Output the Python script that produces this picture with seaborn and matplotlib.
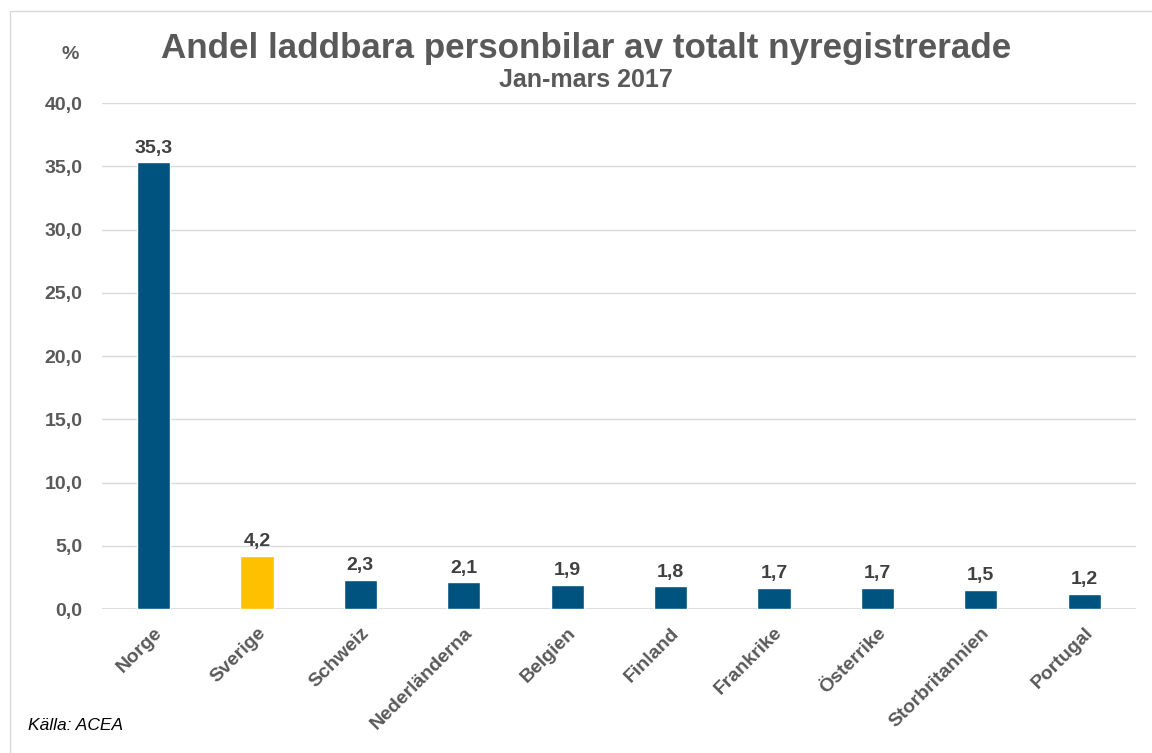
import matplotlib
matplotlib.use("Agg")
import matplotlib.pyplot as plt
import seaborn as sns
import pandas as pd
from matplotlib.patches import Rectangle

countries = ["Norge", "Sverige", "Schweiz", "Nederländerna", "Belgien", "Finland",
             "Frankrike", "Österrike", "Storbritannien", "Portugal"]
shares = [35.3, 4.2, 2.3, 2.1, 1.9, 1.8, 1.7, 1.7, 1.5, 1.2]
yticks = [0, 5, 10, 15, 20, 25, 30, 35, 40]

BLUE = "#00527F"
YELLOW = "#FFC000"
colors = [YELLOW if c == "Sverige" else BLUE for c in countries]

sns.set_theme(style="white")
plt.rcParams['font.family'] = ['Liberation Sans', 'DejaVu Sans']

df = pd.DataFrame({"land": countries, "andel": shares})

fig = plt.figure(figsize=(11.52, 7.53), dpi=100)
ax = fig.add_axes([0.0885, 0.1912, 0.8975, 0.672])

sns.barplot(data=df, x="land", y="andel", hue="land", palette=colors, legend=False,
            width=0.32, ax=ax, zorder=3, saturation=1)

ax.set_ylim(0, 40)
ax.set_xlim(-0.5, len(countries) - 0.5)
ax.set_yticks(yticks)
ax.set_yticklabels([f"{v:.1f}".replace(".", ",") for v in yticks])
ax.yaxis.grid(True, color="#D9D9D9", linewidth=1)
ax.set_axisbelow(True)
for s in ["top", "right", "left", "bottom"]:
    ax.spines[s].set_visible(False)
ax.axhline(0, color="#D9D9D9", linewidth=1.2, zorder=2)

ax.set_xlabel("")
ax.set_ylabel("")
ax.tick_params(axis="y", length=0, pad=14, labelsize=14, labelcolor="#595959")
ax.tick_params(axis="x", length=0, pad=11, labelsize=14, labelcolor="#595959")
for lab in ax.get_yticklabels():
    lab.set_fontweight("bold")
ax.set_xticks(range(len(countries)))
ax.set_xticklabels(countries, rotation=45, ha="right", rotation_mode="anchor",
                   fontweight="bold")

for i, v in enumerate(shares):
    ax.annotate(f"{v:.1f}".replace(".", ","), (i, v), xytext=(0, 4),
                textcoords="offset points", ha="center", va="bottom",
                fontsize=14, fontweight="bold", color="#404040")

fig.text(0.509, 0.936, "Andel laddbara personbilar av totalt nyregistrerade",
         ha="center", va="center", fontsize=25.2, fontweight="bold", color="#595959")
fig.text(0.509, 0.894, "Jan-mars 2017", ha="center", va="center",
         fontsize=18, fontweight="bold", color="#595959")
fig.text(0.061, 0.927, "%", ha="center", va="center", fontsize=14,
         fontweight="bold", color="#595959")
fig.text(0.024, 0.036, "Källa: ACEA", ha="left", va="center", fontsize=12.5,
         style="italic", color="black")

fig.patches.append(Rectangle((10 / 1152, -0.1), 1.2, (753 - 11) / 753 + 0.1,
                             transform=fig.transFigure, fill=False,
                             edgecolor="#D9D9D9", linewidth=1))

fig.savefig("out.png", dpi=100)
